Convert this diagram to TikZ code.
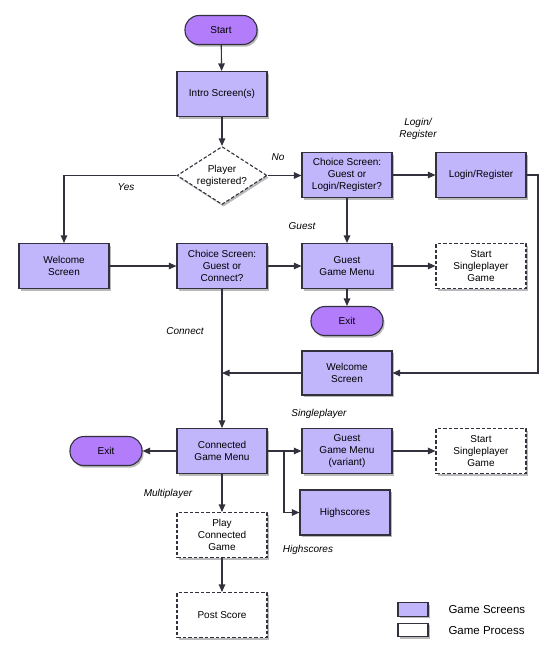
\documentclass[tikz,border=0pt]{standalone}
\usepackage{fontspec}
\setmainfont{Liberation Sans}
\usetikzlibrary{shapes.geometric,shadows,arrows.meta}
\definecolor{screen}{RGB}{193,181,252}
\definecolor{term}{RGB}{178,124,250}
\definecolor{edge}{RGB}{50,50,62}
\begin{document}
\begin{tikzpicture}[x=1pt,y=-1pt, font=\fontsize{10}{12}\selectfont,
 base/.style={draw=edge, line width=1.1pt, align=center, drop shadow={shadow xshift=1.5pt, shadow yshift=-2.2pt, opacity=0.45, fill=black!60}},
 screenbox/.style={base, fill=screen, minimum width=90pt, minimum height=45pt, inner sep=2pt},
 procbox/.style={base, fill=white, dash pattern=on 3.5pt off 2pt, minimum width=90pt, minimum height=45pt, inner sep=2pt},
 termbox/.style={base, fill=term, rounded corners=14pt, minimum width=72pt, minimum height=29pt},
 decision/.style={base, fill=white, dash pattern=on 3.5pt off 2pt, diamond, aspect=1.55, inner sep=0pt, minimum width=90pt, minimum height=58pt},
 legbox/.style={base, minimum width=30pt, minimum height=13.5pt, inner sep=0pt},
 legtext/.style={anchor=west, font=\fontsize{11.5}{13}\selectfont},
 lbl/.style={font=\fontsize{10}{12}\selectfont\itshape, align=center},
 arr/.style={draw=edge, line width=1.1pt, -{Triangle[length=7.5pt,width=6.5pt]}},
 ln/.style={draw=edge, line width=1.1pt}]
\useasboundingbox (0,0) rectangle (550,662);
% nodes
\node[termbox] (start) at (221,30) {Start};
\node[screenbox] (intro) at (222,94) {Intro Screen(s)};
\node[decision] (dec) at (222,175.5) {Player\\registered?};
\node[screenbox] (chl) at (347,175) {Choice Screen:\\Guest or\\Login/Register?};
\node[screenbox] (login) at (481,175) {Login/Register};
\node[screenbox] (w1) at (64,266) {Welcome\\Screen};
\node[screenbox] (chc) at (222,266) {Choice Screen:\\Guest or\\Connect?};
\node[screenbox] (ggm) at (347,266) {Guest\\Game Menu};
\node[procbox] (sp1) at (481,266) {Start\\Singleplayer\\Game};
\node[termbox] (exit1) at (347,321) {Exit};
\node[screenbox, minimum height=44pt] (w2) at (347,373) {Welcome\\Screen};
\node[screenbox] (cgm) at (222,451) {Connected\\Game Menu};
\node[termbox] (exit2) at (106,451) {Exit};
\node[screenbox] (gv) at (347,451) {Guest\\Game Menu\\(variant)};
\node[procbox] (sp2) at (481,451) {Start\\Singleplayer\\Game};
\node[screenbox] (hs) at (345,512.5) {Highscores};
\node[procbox] (play) at (222,535) {Play\\Connected\\Game};
\node[procbox] (post) at (222,615) {Post Score};
% legend
\node[legbox, fill=screen] (lg1) at (413,609.5) {};
\node[legbox, fill=white] (lg2) at (413,630) {};
\node[legtext] (lt1) at (445,610) {Game Screens};
\node[legtext] (lt2) at (445,631) {Game Process};
% labels
\node[lbl] (lyes) at (126,187) {Yes};
\node[lbl] (lno) at (278,157) {No};
\node[lbl] (llog) at (418,129) {Login/\\Register};
\node[lbl] (lguest) at (302,226) {Guest};
\node[lbl] (lconn) at (185,331) {Connect};
\node[lbl] (lsp) at (319,414) {Singleplayer};
\node[lbl] (lmp) at (168,494) {Multiplayer};
\node[lbl] (lhs) at (308,550) {Highscores};
% connectors
\draw[arr] (start) -- (intro);
\draw[arr] (intro) -- (dec);
\draw[arr] (dec.east) -- (chl.west |- dec.east);
\draw[arr] (dec.west) -| (w1.north);
\draw[arr] (chl) -- (login);
\draw[arr] (chl) -- (ggm);
\draw[arr] (w1) -- (chc);
\draw[arr] (chc) -- (ggm);
\draw[arr] (ggm) -- (sp1);
\draw[arr] (ggm) -- (exit1);
\coordinate (rc) at (538,175);
\draw[arr] (login.east) -- (rc) |- (w2.east);
\draw[arr] (w2.west) -- (w2.west -| chc.south);
\draw[arr] (chc) -- (cgm);
\draw[arr] (cgm) -- (exit2);
\draw[arr] (cgm) -- (gv);
\coordinate (br) at (284,451);
\draw[arr] (br) |- (hs.west);
\draw[arr] (gv) -- (sp2);
\draw[arr] (cgm) -- (play);
\draw[arr] (play) -- (post);
\end{tikzpicture}
\end{document}
